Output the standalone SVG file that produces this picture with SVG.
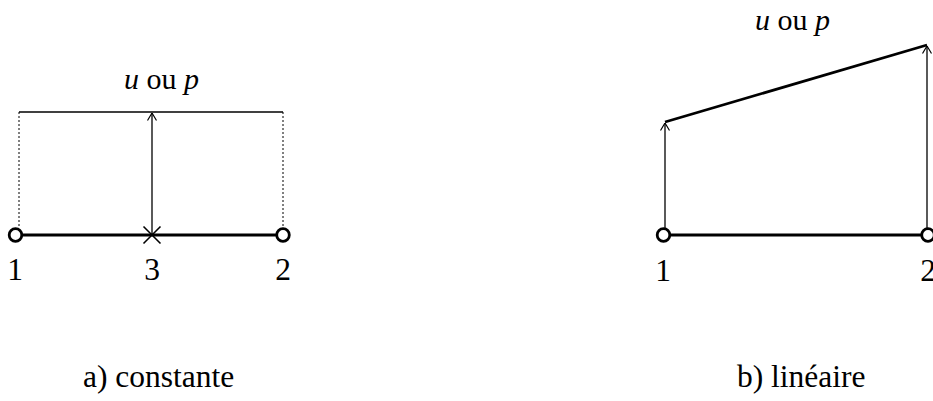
<svg xmlns="http://www.w3.org/2000/svg" width="933" height="401" viewBox="0 0 933 401">
<style>
text{font-family:'Liberation Serif','Times New Roman',serif;fill:#000;font-size:31.5px}
.title{font-size:30px}
.it{font-style:italic}
.thin{stroke:#000;stroke-width:1.3;fill:none}
.thick{stroke:#000;stroke-width:2.8;fill:none}
.dot{stroke:#000;stroke-width:1;stroke-dasharray:2 2;fill:none}
.node{fill:#fff;stroke:#000;stroke-width:2.8}
</style>
<defs>
<marker id="ah" markerWidth="10" markerHeight="10" refX="9.5" refY="5" orient="auto" markerUnits="userSpaceOnUse" viewBox="0 0 10 10">
<path d="M2,0.5 L9.5,5 L2,9.5" fill="none" stroke="#000" stroke-width="1.2"/>
</marker>
</defs>
<rect width="933" height="401" fill="#fff"/>
<g id="connectors">
<line class="dot" x1="19" y1="112" x2="19" y2="226"/>
<line class="dot" x1="283" y1="112" x2="283" y2="226"/>
<line class="thin" x1="19" y1="112" x2="283" y2="112"/>
<line class="thin" x1="152" y1="235" x2="152" y2="113" marker-end="url(#ah)"/>
<line class="thick" x1="21" y1="235" x2="277" y2="235"/>
<line class="thin" x1="665" y1="228" x2="665" y2="123" marker-end="url(#ah)"/>
<line class="thin" x1="927" y1="228" x2="927" y2="46" marker-end="url(#ah)"/>
<line class="thick" x1="665" y1="122" x2="927" y2="45"/>
<line class="thick" x1="669" y1="235" x2="921" y2="235"/>
</g>
<g id="node-a1"><circle class="node" cx="15.5" cy="235" r="6.3"/><text x="15" y="280" text-anchor="middle">1</text></g>
<g id="node-a3"><path class="thin" d="M143.5,226.5 L160.5,243.5 M160.5,226.5 L143.5,243.5" style="stroke-width:1.6"/><text x="152" y="280" text-anchor="middle">3</text></g>
<g id="node-a2"><circle class="node" cx="283" cy="235" r="6.3"/><text x="283" y="280" text-anchor="middle">2</text></g>
<g id="node-b1"><circle class="node" cx="663.5" cy="235" r="6.3"/><text x="663" y="281" text-anchor="middle">1</text></g>
<g id="node-b2"><circle class="node" cx="928" cy="235" r="6.3"/><text x="928" y="281" text-anchor="middle">2</text></g>
<g id="labels">
<text class="title" x="124" y="89"><tspan class="it">u</tspan> ou <tspan class="it">p</tspan></text>
<text class="title" x="755" y="30"><tspan class="it">u</tspan> ou <tspan class="it">p</tspan></text>
<text x="83" y="387">a) constante</text>
<text x="737" y="387">b) linéaire</text>
</g>
</svg>
